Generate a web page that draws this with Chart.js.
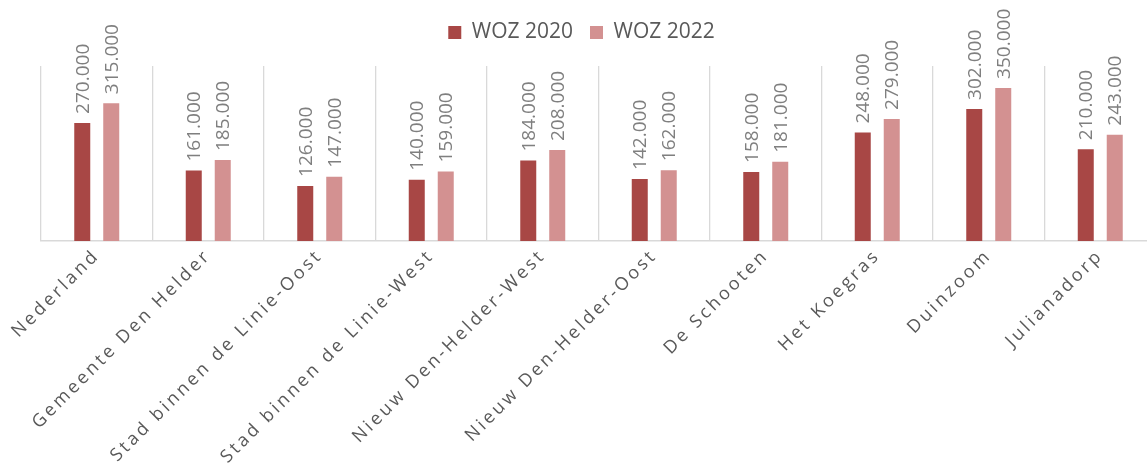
<!DOCTYPE html>
<html>
<head>
<meta charset="utf-8">
<script src="https://cdn.jsdelivr.net/npm/chart.js@4/dist/chart.umd.min.js"></script>
<style>
html,body{margin:0;padding:0;background:#fff;overflow:hidden;}
#wrap{width:1156px;height:470px;}
</style>
</head>
<body>
<div id="wrap"><canvas id="c" width="1156" height="470"></canvas></div>
<script>
const categories = ["Nederland","Gemeente Den Helder","Stad binnen de Linie-Oost","Stad binnen de Linie-West","Nieuw Den-Helder-West","Nieuw Den-Helder-Oost","De Schooten","Het Koegras","Duinzoom","Julianadorp"];
const woz2020 = [270000,161000,126000,140000,184000,142000,158000,248000,302000,210000];
const woz2022 = [315000,185000,147000,159000,208000,162000,181000,279000,350000,243000];
const seriesNames = ["WOZ 2020","WOZ 2022"];

function fmtNL(v){
  return String(Math.round(v)).replace(/\B(?=(\d{3})+(?!\d))/g, ".");
}

const valueLabels = {
  id: 'valueLabels',
  afterDatasetsDraw(chart){
    const ctx = chart.ctx;
    ctx.save();
    ctx.font = '19px "Open Sans"';
    ctx.fillStyle = '#7f7f7f';
    ctx.textAlign = 'left';
    ctx.textBaseline = 'middle';
    chart.data.datasets.forEach((ds, i) => {
      const meta = chart.getDatasetMeta(i);
      meta.data.forEach((bar, j) => {
        ctx.save();
        ctx.translate(bar.x, bar.y - 9);
        ctx.rotate(-Math.PI/2);
        ctx.fillText(fmtNL(ds.data[j]), 0, 1);
        ctx.restore();
      });
    });
    ctx.restore();
    ctx.letterSpacing = '3px';
  },
  afterDraw(chart){
    chart.ctx.letterSpacing = '0px';
  }
};

new Chart(document.getElementById('c'), {
  type: 'bar',
  data: {
    labels: categories,
    datasets: [
      {label: seriesNames[0], data: woz2020, backgroundColor: '#a84745', categoryPercentage: 0.52, barPercentage: 0.552},
      {label: seriesNames[1], data: woz2022, backgroundColor: '#d39191', categoryPercentage: 0.52, barPercentage: 0.552}
    ]
  },
  options: {
    responsive: false,
    animation: false,
    layout: {padding: {left: 7, right: 0, top: 5, bottom: 0}},
    plugins: {
      legend: {
        position: 'top',
        labels: {
          boxWidth: 13, boxHeight: 13, padding: 17,
          color: '#595959',
          font: {family: '"Open Sans"', size: 21}
        }
      },
      tooltip: {enabled: false}
    },
    scales: {
      x: {
        position: 'bottom',
        grid: {display: true, color: '#d9d9d9', lineWidth: 1.3, drawTicks: false, offset: true},
        border: {display: true, color: '#d9d9d9', width: 1.5},
        ticks: {
          z: 1,
          autoSkip: false, minRotation: 45, maxRotation: 45,
          padding: 4,
          color: '#595959',
          font: {family: '"Open Sans"', size: 18}
        },
        afterFit(s){ s.height = 229; s.paddingLeft = 0; s.paddingRight = 0; }
      },
      spacer: {
        type: 'category', position: 'top', display: true,
        grid: {display: false, drawTicks: false}, border: {display: false},
        ticks: {display: false},
        afterFit(s){ s.height = 13; }
      },
      y: {
        display: true, position: 'left', min: 0, max: 400000,
        grid: {display: false, drawTicks: false}, border: {display: false},
        ticks: {display: false},
        afterFit(s){ s.width = 34; }
      }
    }
  },
  plugins: [valueLabels]
});
</script>
</body>
</html>
